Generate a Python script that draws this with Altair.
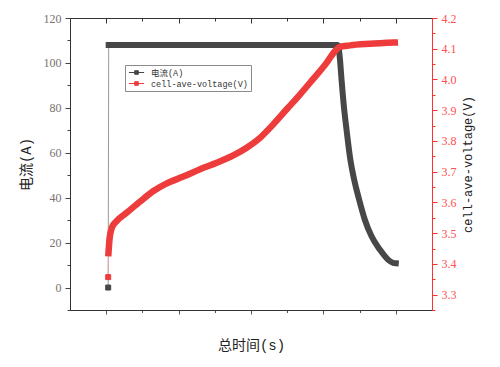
import altair as alt
import pandas as pd

# ---------------- data ----------------
series_names = ["电流(A)", "cell-ave-voltage(V)"]
series_colors = ["#474747", "#EE3B3B"]

x_tick_values = [0, 1000, 2000, 3000, 4000, 5000, 6000, 7000, 8000]
left_tick_values = [-10, 0, 10, 20, 30, 40, 50, 60, 70, 80, 90, 100, 110, 120]
right_tick_values = [3.25, 3.3, 3.35, 3.4, 3.45, 3.5, 3.55, 3.6, 3.65, 3.7,
                     3.75, 3.8, 3.85, 3.9, 3.95, 4.0, 4.05, 4.1, 4.15, 4.2]

# current (A): first isolated sample, then the dense run
current_first_t = [55]
current_first_a = [0]
current_t = [69, 6400, 6455, 6502, 6566, 6640, 6731, 6850, 6988, 7145, 7330,
             7559, 7788, 7926, 8000]
current_a = [108, 108, 102, 92.4, 80.6, 70.2, 58.4, 48.0, 39.1, 30.2, 22.8,
             16.9, 12.4, 11.0, 10.8]

# cell average voltage (V)
voltage_first_t = [55]
voltage_first_v = [3.357]
voltage_t = [63, 91, 157, 295, 571, 938, 1305, 1674, 2132, 2593, 3054, 3512,
             3881, 4248, 4615, 4985, 5352, 5719, 6088, 6317, 6455, 6731, 7283,
             7972]
voltage_v = [3.435, 3.48, 3.518, 3.54, 3.567, 3.603, 3.637, 3.662, 3.684,
             3.708, 3.729, 3.753, 3.778, 3.81, 3.854, 3.903, 3.951, 4.002,
             4.054, 4.092, 4.106, 4.111, 4.116, 4.12]

# ---------------- tables ----------------
cur_df = pd.DataFrame({
    "t": current_first_t + current_t,
    "v": current_first_a + current_a,
    "dense": [False] * len(current_first_t) + [True] * len(current_t),
    "series": series_names[0],
})
volt_df = pd.DataFrame({
    "t": voltage_first_t + voltage_t,
    "v": voltage_first_v + voltage_v,
    "dense": [False] * len(voltage_first_t) + [True] * len(voltage_t),
    "series": series_names[1],
})

FONT_NUM = "Liberation Serif"
FONT_TXT = "Liberation Mono, Noto Sans CJK SC"

x_scale = alt.Scale(domain=[-1000, 9000], nice=False, zero=False)
y_left_scale = alt.Scale(domain=[-10, 120], nice=False, zero=False)
y_right_scale = alt.Scale(domain=[3.25, 4.2], nice=False, zero=False)
col_scale = alt.Scale(domain=series_names, range=series_colors)

legend_path = "M-1.9,0H1.9M-0.45,-0.45H0.45V0.45H-0.45Z"
legend = alt.Legend(
    title=None, orient="none", legendX=55, legendY=47,
    strokeColor="#8a8a8a", fillColor="white", padding=3,
    symbolType=legend_path, symbolSize=64, symbolStrokeWidth=1,
    labelFont=FONT_TXT, labelFontSize=8.5, labelColor="#333", labelOffset=10,
    rowPadding=2, symbolOffset=4,
)

major_x = "datum.value % 2000 === 0"
bottom_axis = alt.Axis(
    orient="bottom", values=x_tick_values, labels=False,
    tickSize={"condition": {"test": major_x, "value": 4}, "value": 2.5},
    domainColor="#333", tickColor="#555", grid=False,
    title="总时间(s)", titleFont=FONT_TXT, titleFontSize=14,
    titleFontWeight="normal", titleColor="#222", titlePadding=24,
)
top_axis = alt.Axis(
    orient="top", values=x_tick_values, labels=False, tickSize=5, offset=-5,
    tickDash={"condition": {"test": major_x, "value": [5, 0]},
              "value": [0, 2, 3, 10]},
    domain=False, tickColor="#333", grid=False, title=None,
)

major_left = "datum.value % 20 === 0"
left_axis = alt.Axis(
    orient="left", values=left_tick_values,
    labelExpr=f"{major_left} ? datum.label : ''",
    tickSize={"condition": {"test": major_left, "value": 5}, "value": 3},
    domainColor="#333", tickColor="#444", labelColor="#7a7070",
    labelFont=FONT_NUM, labelFontSize=12, labelPadding=4, grid=False,
    title="电流(A)", titleFont=FONT_TXT, titleFontSize=14,
    titleFontWeight="normal", titleColor="#222", titlePadding=10,
)
major_right = "abs(round(datum.value * 100) % 10) === 0"
right_axis = alt.Axis(
    orient="right", values=right_tick_values,
    labelExpr=f"{major_right} ? format(datum.value, '.1f') : ''",
    tickSize={"condition": {"test": major_right, "value": 5}, "value": 3},
    domainColor="#FF3030", tickColor="#FF3030", labelColor="#FF5050",
    labelFont=FONT_NUM, labelFontSize=12, labelPadding=4, grid=False,
    title="cell-ave-voltage(V)", titleFont=FONT_TXT, titleFontSize=12,
    titleFontWeight="normal", titleColor="#222", titlePadding=6,
    titleAngle=270, titleBaseline="top",
)

# ---------------- current (left axis) ----------------
cur_base = alt.Chart(cur_df)
cur_thin = cur_base.mark_line(color="#9a9a9a", strokeWidth=1).encode(
    x=alt.X("t:Q", scale=x_scale, axis=bottom_axis),
    y=alt.Y("v:Q", scale=y_left_scale, axis=left_axis),
    order="t:Q",
)
cur_thick = cur_base.transform_filter("datum.dense").mark_line(
    color=series_colors[0], strokeWidth=6, strokeCap="square",
    interpolate="monotone",
).encode(
    x=alt.X("t:Q", scale=x_scale, axis=None),
    y=alt.Y("v:Q", scale=y_left_scale, axis=None),
    order="t:Q",
)
cur_pts = cur_base.transform_filter("!datum.dense").mark_point(
    shape="square", size=25, filled=True, opacity=1, strokeWidth=1
).encode(
    x=alt.X("t:Q", scale=x_scale, axis=None),
    y=alt.Y("v:Q", scale=y_left_scale, axis=None),
    fill=alt.Fill("series:N", scale=col_scale, legend=legend),
    stroke=alt.Stroke("series:N", scale=col_scale, legend=legend),
)

# ---------------- voltage (right axis) ----------------
volt_base = alt.Chart(volt_df)
volt_thin = volt_base.mark_line(color="#F5A3A3", strokeWidth=1).encode(
    x=alt.X("t:Q", scale=x_scale, axis=top_axis),
    y=alt.Y("v:Q", scale=y_right_scale, axis=right_axis),
    order="t:Q",
)
volt_thick = volt_base.transform_filter("datum.dense").mark_line(
    color=series_colors[1], strokeWidth=6.5, strokeCap="square",
    interpolate="monotone",
).encode(
    x=alt.X("t:Q", scale=x_scale, axis=None),
    y=alt.Y("v:Q", scale=y_right_scale, axis=None),
    order="t:Q",
)
volt_pts = volt_base.transform_filter("!datum.dense").mark_point(
    shape="square", size=25, filled=True, opacity=1, strokeWidth=1
).encode(
    x=alt.X("t:Q", scale=x_scale, axis=None),
    y=alt.Y("v:Q", scale=y_right_scale, axis=None),
    fill=alt.Fill("series:N", scale=col_scale, legend=legend),
    stroke=alt.Stroke("series:N", scale=col_scale, legend=legend),
)

chart = alt.layer(
    cur_thin, cur_thick, cur_pts, volt_thin, volt_thick, volt_pts
).resolve_scale(
    y="independent"
).resolve_axis(
    x="independent", y="independent"
).properties(
    width=362, height=292,
    autosize=alt.AutoSizeParams(type="none"),
    padding={"left": 62, "top": 10, "right": 60, "bottom": 49},
    background="white",
).configure_view(stroke="#333", strokeWidth=1)

chart.save("out.html", embed_options={"renderer": "svg", "actions": False})
